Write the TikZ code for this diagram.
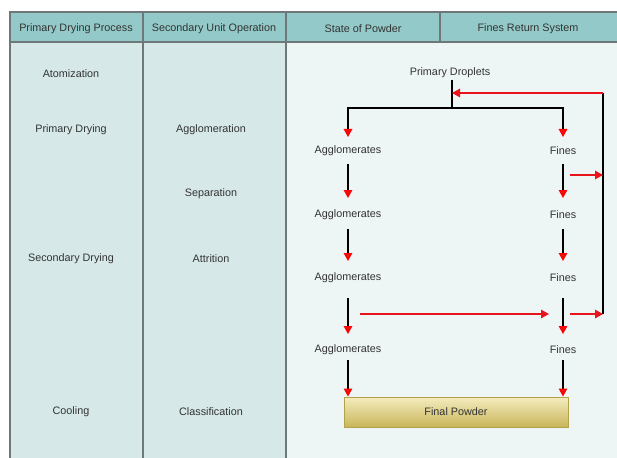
\documentclass[tikz,border=0pt]{standalone}
\usepackage{fontspec}
\setmainfont{Liberation Sans}
\usetikzlibrary{arrows.meta}
\definecolor{headfill}{HTML}{93C9C8}
\definecolor{leftfill}{HTML}{D6E8E8}
\definecolor{rightfill}{HTML}{EEF5F5}
\definecolor{gridline}{HTML}{6E7878}
\definecolor{txt}{HTML}{333333}
\definecolor{arrred}{HTML}{E8131B}
\definecolor{boxtop}{HTML}{F4ECBE}
\definecolor{boxbot}{HTML}{C9B65A}
\definecolor{boxline}{HTML}{B3A24A}
\begin{document}
\begin{tikzpicture}[x=1pt,y=-1pt,
  lbl/.style={font=\fontsize{10.8}{12}\selectfont, text=txt, inner sep=1pt, yshift=-1.5pt},
  grid/.style={draw=gridline, line width=1.1pt},
  flow/.style={black, line width=1.4pt, -{Triangle[red, fill=arrred, length=8pt, width=8.5pt]}},
  redflow/.style={arrred, line width=1.4pt, -{Triangle[fill=arrred, length=8pt, width=8.5pt]}},
  blackline/.style={black, line width=1.4pt},
  redline/.style={arrred, line width=1.4pt}]
\useasboundingbox (0,0) rectangle (617,457);
% backgrounds
\fill[leftfill] (10,42) rectangle (286,470);
\fill[rightfill] (286,42) rectangle (640,470);
\fill[headfill] (10,12) rectangle (640,42);
% grid
\draw[grid] (640,12) -- (10,12) -- (10,470);
\draw[grid] (10,42) -- (640,42);
\draw[grid] (143,12) -- (143,470);
\draw[grid] (286,12) -- (286,470);
\draw[grid] (440,12) -- (440,42);
% headers
\node[lbl] (h1) at (76,27) {Primary Drying Process};
\node[lbl] (h2) at (214,27) {Secondary Unit Operation};
\node[lbl] (h3) at (363,27) {State of Powder};
\node[lbl] (h4) at (528,27) {Fines Return System};
% left columns
\node[lbl] (c1a) at (71,72) {Atomization};
\node[lbl] (c1b) at (71,128) {Primary Drying};
\node[lbl] (c1c) at (71,257) {Secondary Drying};
\node[lbl] (c1d) at (71,410) {Cooling};
\node[lbl] (c2a) at (211,128) {Agglomeration};
\node[lbl] (c2b) at (211,192) {Separation};
\node[lbl] (c2c) at (211,257) {Attrition};
\node[lbl] (c2d) at (211,410) {Classification};
% flow nodes
\node[lbl] (pd) at (450,71) {Primary Droplets};
\node[lbl] (a1) at (348,149) {Agglomerates};
\node[lbl] (a2) at (348,213) {Agglomerates};
\node[lbl] (a3) at (348,276) {Agglomerates};
\node[lbl] (a4) at (348,348) {Agglomerates};
\node[lbl] (f1) at (563,149) {Fines};
\node[lbl] (f2) at (563,213) {Fines};
\node[lbl] (f3) at (563,276) {Fines};
\node[lbl] (f4) at (563,348) {Fines};
\node[lbl, yshift=1.5pt, draw=boxline, line width=1pt, top color=boxtop, bottom color=boxbot,
      minimum width=224pt, minimum height=30pt] (fp) at (456,412) {Final Powder};
% coordinates
\coordinate (split) at (452,108);
\coordinate (retTop) at (603,93);
\coordinate (retIn) at (452,93);
\coordinate (retBot) at (603,314);
% flows
\draw[blackline] (452,80) -- (split);
\draw[flow] (split) -| (348,137);
\draw[flow] (split) -| (563,137);
\draw[flow] (348,164) -- (348,198);
\draw[flow] (348,229) -- (348,261);
\draw[flow] (348,298) -- (348,334);
\draw[flow] (348,360) -- (fp.north -| 348,0);
\draw[flow] (563,164) -- (563,198);
\draw[flow] (563,229) -- (563,261);
\draw[flow] (563,298) -- (563,334);
\draw[flow] (563,360) -- (fp.north -| 563,0);
% fines return
\draw[blackline] (retTop) -- (retBot);
\draw[redflow] (retTop) -- (retIn);
\draw[redflow] (570,175) -- (603,175);
\draw[redflow] (570,314) -- (retBot);
\draw[redflow] (360,314) -- (549,314);
\end{tikzpicture}
\end{document}
